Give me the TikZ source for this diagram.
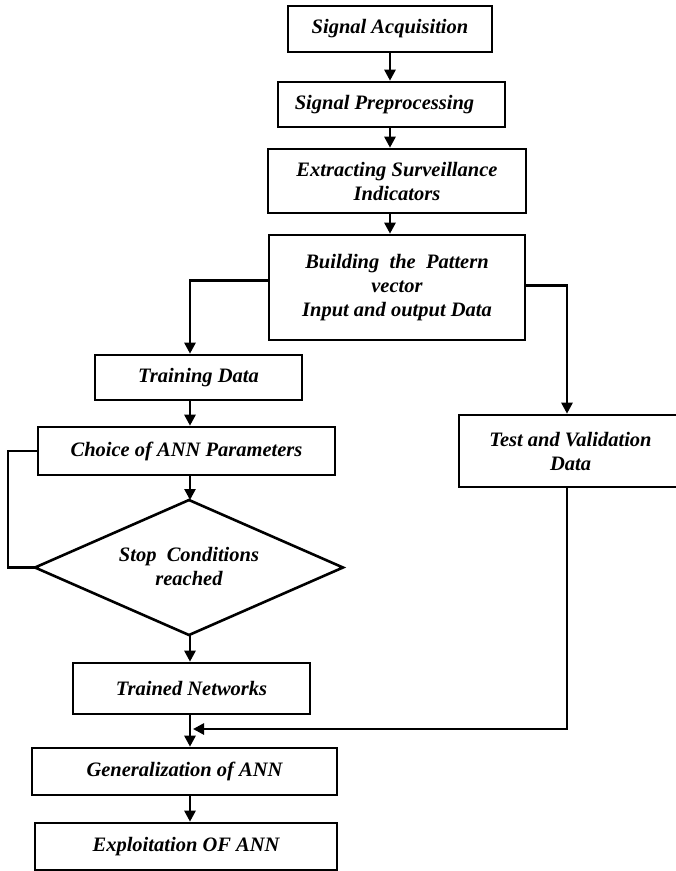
\documentclass[tikz,border=0pt]{standalone}
\usepackage{fontspec}
\setmainfont{Liberation Serif}
\usetikzlibrary{arrows.meta,shapes.geometric}
\begin{document}
\begin{tikzpicture}[x=1pt,y=-1pt,
  every node/.style={font=\fontsize{20.5}{24}\selectfont\bfseries\itshape},
  box/.style={draw,line width=2.6pt,rectangle,inner sep=0pt,align=center},
  conn/.style={line width=2.6pt},
  arr/.style={conn,-{Triangle[length=11pt,width=11pt]}}]
\useasboundingbox (0,0) rectangle (676,871);
\coordinate (colL) at (190,0);
\coordinate (colR) at (567,0);
\coordinate (fb) at (8,0);
\coordinate (jn) at (190,729);
\coordinate (scN) at (189,500);
\coordinate (scS) at (189,635);
\coordinate (scW) at (35,567.5);
\coordinate (scE) at (343,567.5);

\node[box,minimum width=204pt,minimum height=46pt] (sa) at (390,29) {Signal Acquisition};
\node[box,minimum width=227pt,minimum height=45pt] (sp) at (391.5,104.5) {\hspace*{-14pt}Signal Preprocessing};
\node[box,minimum width=258pt,minimum height=64pt] (ex) at (397,181) {Extracting Surveillance\\Indicators};
\node[box,minimum width=256pt,minimum height=105pt] (bp) at (397,287.5) {Building\ \ the\ \ Pattern\\vector\\Input and output Data};
\node[box,minimum width=207pt,minimum height=45pt] (td) at (198.5,377.5) {Training Data};
\node[box,minimum width=297pt,minimum height=48pt] (cp) at (186.5,451) {Choice of ANN Parameters};
\draw[conn,line join=miter] (scN) -- (scE) -- (scS) -- (scW) -- cycle;
\node[align=center,inner sep=0pt] (sc) at (189,566) {Stop\ \ Conditions\\reached};
\node[box,minimum width=241pt,minimum height=72pt] (tv) at (579.5,451) {\hspace*{-18pt}Test and Validation\\\hspace*{-18pt}Data};
\node[box,minimum width=237pt,minimum height=51pt] (tn) at (191.5,688.5) {Trained Networks};
\node[box,minimum width=305pt,minimum height=47pt] (gen) at (184.5,771.5) {Generalization of ANN};
\node[box,minimum width=302pt,minimum height=47pt] (exp) at (186,846.5) {Exploitation OF ANN};

\draw[arr] (sa.south) -- (sa.south |- sp.north);
\draw[arr] (sa.south |- sp.south) -- (sa.south |- ex.north);
\draw[arr] (sa.south |- ex.south) -- (sa.south |- bp.north);
\draw[arr] ([yshift=7pt]bp.west) -| (colL |- td.north);
\draw[arr] ([yshift=2pt]bp.east) -| (colR |- tv.north);
\draw[arr] (colL |- td.south) -- (colL |- cp.north);
\draw[arr] (colL |- cp.south) -- (colL |- scN);
\draw[conn] (cp.west) -| (fb |- scW) -- (scW);
\draw[arr] (colL |- scS) -- (colL |- tn.north);
\draw[arr] (colL |- tn.south) -- (colL |- gen.north);
\draw[arr] (colR |- tv.south) |- ([xshift=3pt]jn);
\draw[arr] (colL |- gen.south) -- (colL |- exp.north);
\end{tikzpicture}
\end{document}
